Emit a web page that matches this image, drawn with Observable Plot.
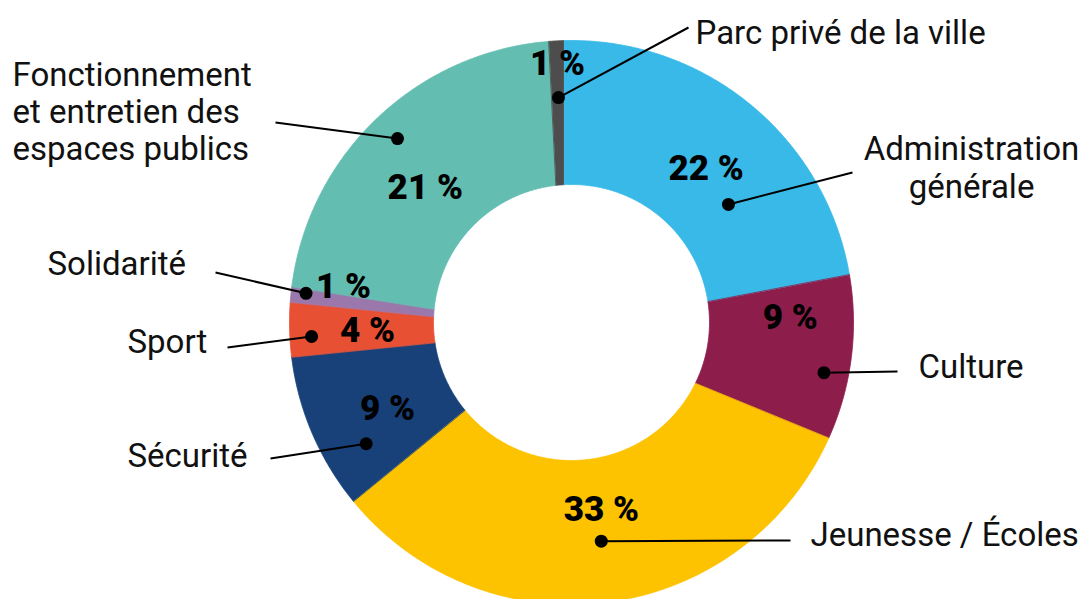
<!DOCTYPE html>
<html>
<head>
<meta charset="utf-8">
<script src="https://cdn.jsdelivr.net/npm/d3@7"></script>
<script src="https://cdn.jsdelivr.net/npm/@observablehq/plot@0.6"></script>
<style>
  html, body { margin: 0; padding: 0; background: #fff; }
  #chart svg { display: block; }
</style>
</head>
<body>
<div id="chart"></div>
<script>
// ---------- data ----------
const categories = [
  "Administration générale",
  "Culture",
  "Jeunesse / Écoles",
  "Sécurité",
  "Sport",
  "Solidarité",
  "Fonctionnement et entretien des espaces publics",
  "Parc privé de la ville"
];
// slice sizes as drawn (share of the full turn, %)
const shares = [22.0, 9.2, 32.9, 9.3, 3.2, 0.9, 21.7, 0.8];
// percentages printed on the slices
const percentText = ["22 %", "9 %", "33 %", "9 %", "4 %", "1 %", "21 %", "1 %"];
// category names as printed (line breaks)
const labelText = [
  "Administration\ngénérale",
  "Culture",
  "Jeunesse / Écoles",
  "Sécurité",
  "Sport",
  "Solidarité",
  "Fonctionnement\net entretien des\nespaces publics",
  "Parc privé de la ville"
];
const colors = ["#38b9e7", "#8d1d4b", "#fdc200", "#18417a", "#e85034", "#9a78ac", "#63beb1", "#4d4d4d"];

// ---------- layout ----------
const W = 1085, H = 599;
const ring = {cx: 571, cy: 322, outer: 282, inner: 138};
const apex = {x: 563, y: 329};           // point the slice edges radiate from
// [fraction of slice angle, distance from apex]
const pctPos = [[0.525, 215], [0.24, 227], [0.471, 184], [0.449, 193], [0.47, 196], [1.6, 224], [0.47, 198], [0.55, 266]];
const dotPos = [[0.667, 207], [0.61, 264], [0.486, 215], [0.274, 228], [0.362, 252], [0.69, 260], [0.512, 253], [0.57, 232]];
const leaderEnd = [[852, 172], [897, 371], [790, 540], [270, 458], [227, 347], [215, 272], [275, 122], [688, 27]];
const labelPos = [[971, 197], [918, 377], [810, 545], [127, 466], [127, 352], [47, 274], [12, 159], [695, 43]];

// ---------- geometry ----------
const total = d3.sum(shares);
const starts = [];
{ let acc = 0; for (const s of shares) { starts.push(acc); acc += s; } }
const ang = v => (v / total) * 2 * Math.PI;

function hit(theta, rho) {
  const ux = Math.sin(theta), uy = -Math.cos(theta);
  const dx = apex.x - ring.cx, dy = apex.y - ring.cy;
  const b = dx * ux + dy * uy;
  const c = dx * dx + dy * dy - rho * rho;
  const t = -b + Math.sqrt(b * b - c);
  return [apex.x + t * ux, apex.y + t * uy];
}
const phi = p => Math.atan2(p[0] - ring.cx, -(p[1] - ring.cy));
const onCircle = (a, rho) => [ring.cx + rho * Math.sin(a), ring.cy - rho * Math.cos(a)];

const slicePts = [];
categories.forEach((cat, i) => {
  const a0 = ang(starts[i]), a1 = ang(starts[i] + shares[i]);
  let o0 = phi(hit(a0, ring.outer)), o1 = phi(hit(a1, ring.outer));
  while (o1 < o0) o1 += 2 * Math.PI;
  let n0 = phi(hit(a0, ring.inner)), n1 = phi(hit(a1, ring.inner));
  while (n1 < n0) n1 += 2 * Math.PI;
  const no = Math.max(2, Math.ceil((o1 - o0) / 0.01));
  for (let k = 0; k <= no; k++) {
    const [x, y] = onCircle(o0 + (o1 - o0) * k / no, ring.outer);
    slicePts.push({category: cat, x, y});
  }
  const ni = Math.max(2, Math.ceil((n1 - n0) / 0.01));
  for (let k = ni; k >= 0; k--) {
    const [x, y] = onCircle(n0 + (n1 - n0) * k / ni, ring.inner);
    slicePts.push({category: cat, x, y});
  }
});

function polar(i, [t, r]) {
  const a0 = ang(starts[i]), a1 = ang(starts[i] + shares[i]);
  const a = a0 + t * (a1 - a0);
  return [apex.x + r * Math.sin(a), apex.y - r * Math.cos(a)];
}

const annot = categories.map((cat, i) => {
  const [px, py] = polar(i, pctPos[i]);
  const [dx, dy] = polar(i, dotPos[i]);
  return {
    category: cat, pct: percentText[i], label: labelText[i],
    px, py, dx, dy,
    lx: leaderEnd[i][0], ly: leaderEnd[i][1],
    tx: labelPos[i][0], ty: labelPos[i][1]
  };
});
const centered = annot.filter((d, i) => i === 0);
const multi = annot.filter((d, i) => i === 6);
const single = annot.filter((d, i) => i !== 0 && i !== 6);

const chart = Plot.plot({
  width: W,
  height: H,
  margin: 0,
  x: {domain: [0, W], range: [0, W], axis: null},
  y: {domain: [0, H], range: [0, H], axis: null},
  color: {domain: categories, range: colors},
  style: {fontFamily: "Roboto, sans-serif", background: "#fff", color: "#000"},
  marks: [
    Plot.line(slicePts, {x: "x", y: "y", z: "category", fill: "category", stroke: "category", strokeWidth: 0.8, curve: "linear-closed"}),
    Plot.link(annot, {x1: "dx", y1: "dy", x2: "lx", y2: "ly", stroke: "#000", strokeWidth: 2}),
    Plot.dot(annot, {x: "dx", y: "dy", r: 6.5, fill: "#000"}),
    Plot.text(annot, {x: "px", y: "py", text: "pct", fontSize: 35, fontWeight: 900, fill: "#000", textAnchor: "middle", lineAnchor: "middle"}),
    Plot.text(single, {x: "tx", y: "ty", text: "label", fontSize: 33, fill: "#111", textAnchor: "start", lineAnchor: "bottom"}),
    Plot.text(multi, {x: "tx", y: "ty", text: "label", fontSize: 33, lineHeight: 1.12, fill: "#111", textAnchor: "start", lineAnchor: "bottom"}),
    Plot.text(centered, {x: "tx", y: "ty", text: "label", fontSize: 33, lineHeight: 1.15, fill: "#111", textAnchor: "middle", lineAnchor: "bottom"})
  ]
});
document.getElementById("chart").appendChild(chart);
</script>
</body>
</html>
